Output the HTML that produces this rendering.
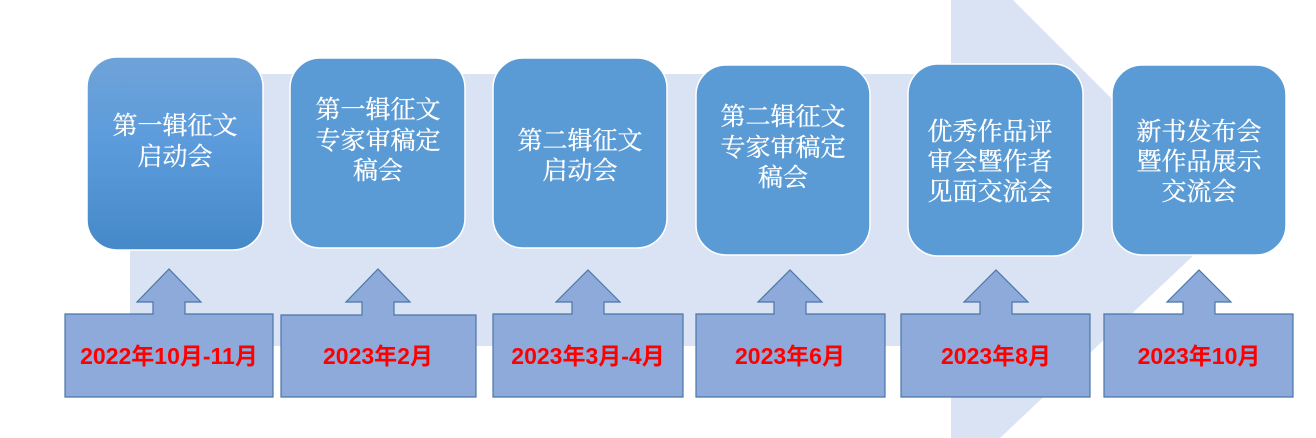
<!DOCTYPE html>
<html><head><meta charset="utf-8"><style>
html,body{margin:0;padding:0;background:#fff;}
svg{display:block;}
.t{font-family:"Liberation Serif","Noto Serif CJK SC",serif;font-size:25px;fill:#fff;text-anchor:middle;stroke:#fff;stroke-width:0.3;}
.d{font-family:"Liberation Sans","Noto Sans CJK SC",sans-serif;font-size:23px;font-weight:bold;fill:#ff0000;text-anchor:middle;}
</style></head><body>
<svg width="1316" height="438" viewBox="0 0 1316 438" xmlns="http://www.w3.org/2000/svg">
<defs>
<linearGradient id="g1" x1="0" y1="0" x2="0" y2="1">
<stop offset="0" stop-color="#6fa3d8"/><stop offset="0.45" stop-color="#5b9bdc"/><stop offset="1" stop-color="#4589c8"/>
</linearGradient>
</defs>
<polygon points="130,74 951,74 951,0 1013,0 1232,219 1000,438 951,438 951,346 130,346" fill="#dae3f3"/>
<g stroke="#ffffff" stroke-width="1.5">
<rect x="87" y="57" width="176" height="193" rx="30" fill="url(#g1)"/>
<rect x="290" y="58" width="175" height="190" rx="30" fill="#5b9bd5"/>
<rect x="493" y="58" width="174" height="190" rx="30" fill="#5b9bd5"/>
<rect x="696" y="65" width="174" height="190" rx="30" fill="#5b9bd5"/>
<rect x="908" y="64" width="175" height="192" rx="30" fill="#5b9bd5"/>
<rect x="1112" y="65" width="174" height="190" rx="30" fill="#5b9bd5"/>
</g>
<text class="t" x="175" y="134">第一辑征文</text><text class="t" x="175" y="165">启动会</text>
<text class="t" x="378" y="118">第一辑征文</text><text class="t" x="378" y="149">专家审稿定</text><text class="t" x="378" y="179">稿会</text>
<text class="t" x="580" y="149">第二辑征文</text><text class="t" x="580" y="179">启动会</text>
<text class="t" x="783" y="125">第二辑征文</text><text class="t" x="783" y="156">专家审稿定</text><text class="t" x="783" y="186">稿会</text>
<text class="t" x="990" y="140">优秀作品评</text><text class="t" x="990" y="170">审会暨作者</text><text class="t" x="990" y="200">见面交流会</text>
<text class="t" x="1199" y="140">新书发布会</text><text class="t" x="1199" y="170">暨作品展示</text><text class="t" x="1199" y="200">交流会</text>
<g fill="#8eaadb" stroke="#4a76a8" stroke-width="1.2">
<polygon points="65,314 153,314 153,302 137,302 169,269 201,302 185,302 185,314 273,314 273,397 65,397"/>
<polygon points="281,315 362,315 362,302 346,302 378,269 410,302 394,302 394,315 476,315 476,397 281,397"/>
<polygon points="493,314 572,314 572,302 556,302 588,270 620,302 604,302 604,314 683,314 683,397 493,397"/>
<polygon points="696,314 774,314 774,302 758,302 790,270 822,302 806,302 806,314 885,314 885,397 696,397"/>
<polygon points="901,314 980,314 980,302 964,302 996,270 1028,302 1012,302 1012,314 1090,314 1090,397 901,397"/>
<polygon points="1104,314 1183,314 1183,302 1167,302 1199,270 1231,302 1215,302 1215,314 1293,314 1293,397 1104,397"/>
</g>
<text class="d" x="169" y="364">2022年10月-11月</text>
<text class="d" x="378" y="364">2023年2月</text>
<text class="d" x="588" y="364">2023年3月-4月</text>
<text class="d" x="790" y="364">2023年6月</text>
<text class="d" x="996" y="364">2023年8月</text>
<text class="d" x="1199" y="364">2023年10月</text>
</svg>
</body></html>
